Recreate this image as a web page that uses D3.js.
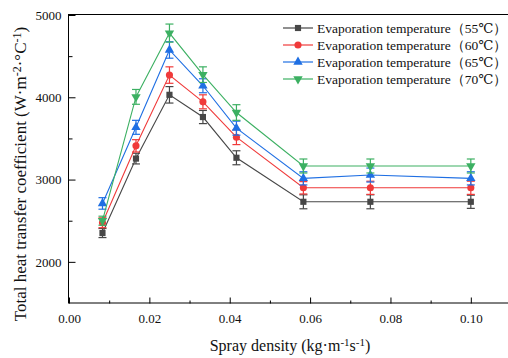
<!DOCTYPE html>
<html>
<head>
<meta charset="utf-8">
<script src="https://cdn.jsdelivr.net/npm/d3@7"></script>
<style>
  body { margin: 0; background: #fff; }
  svg { display: block; }
  svg text { font-family: "Liberation Serif", "Times New Roman", "DejaVu Serif", serif; fill: #111; }
</style>
</head>
<body>
<div id="chart"></div>
<script>
// spray density (kg·m-1s-1)
const density = [0.00833, 0.01667, 0.025, 0.03333, 0.04167, 0.05833, 0.075, 0.1];

const seriesNames = ['Evaporation temperature（55℃）', 'Evaporation temperature（60℃）',
                     'Evaporation temperature（65℃）', 'Evaporation temperature（70℃）'];
const t55 = [2350, 3255, 4030, 3760, 3265, 2730, 2730, 2730];
const t60 = [2475, 3410, 4270, 3945, 3515, 2900, 2900, 2900];
const t65 = [2710, 3635, 4575, 4140, 3625, 3015, 3055, 3015];
const t70 = [2500, 4005, 4780, 4275, 3815, 3165, 3165, 3165];
const err55 = [55, 65, 100, 80, 85, 85, 85, 80];
const err60 = [60, 75, 100, 85, 90, 75, 80, 80];
const err65 = [70, 85, 100, 85, 85, 80, 85, 80];
const err70 = [55, 90, 110, 95, 95, 85, 85, 85];

const xTicks = [0, 0.02, 0.04, 0.06, 0.08, 0.10];
const xMinor = [0.01, 0.03, 0.05, 0.07, 0.09];
const yTicks = [2000, 3000, 4000, 5000];
const yMinor = [2500, 3500, 4500];

const colors = ['#474747', '#f03a3a', '#1f6fe3', '#3cb062'];
const symbols = [d3.symbolSquare, d3.symbolCircle, d3.symbolTriangle, d3.symbolTriangle];

const W = 508, H = 358;
const svg = d3.select('#chart').append('svg').attr('width', W).attr('height', H);

const x = d3.scaleLinear().domain([0, 0.11]).range([69, 511]);
const y = d3.scaleLinear().domain([1500, 5000]).range([303, 15]);

// frame
svg.append('rect')
    .attr('x', 68.5).attr('y', 14.5)
    .attr('width', 511 - 68.5).attr('height', 303 - 14.5)
    .attr('fill', 'none').attr('stroke', '#000').attr('stroke-width', 1);

// axes
svg.append('g').attr('transform', 'translate(0,303.5)')
    .call(d3.axisBottom(x).tickValues(xTicks).tickSize(-6).tickPadding(10).tickFormat(d3.format('.2f')));
svg.append('g').attr('transform', 'translate(0,303.5)')
    .call(d3.axisBottom(x).tickValues(xMinor).tickSize(-3).tickFormat(''));
svg.append('g').attr('transform', 'translate(68.5,0)')
    .call(d3.axisLeft(y).tickValues(yTicks).tickSize(-7).tickPadding(7).tickFormat(d3.format('d')));
svg.append('g').attr('transform', 'translate(68.5,0)')
    .call(d3.axisLeft(y).tickValues(yMinor).tickSize(-4).tickFormat(''));
svg.selectAll('.domain').remove();
svg.selectAll('.tick line').attr('stroke', '#000');
svg.selectAll('.tick text').attr('fill', '#111').style('font-size', '13px');
svg.selectAll('g').attr('font-family', null).attr('font-size', null);

// axis titles
svg.append('text')
    .attr('x', 290).attr('y', 351)
    .attr('text-anchor', 'middle').style('font-size', '16px')
    .html('Spray density (kg·m<tspan dy="-5" font-size="11">-1</tspan><tspan dy="5">s</tspan><tspan dy="-5" font-size="11">-1</tspan><tspan dy="5">)</tspan>');
svg.append('text')
    .attr('transform', 'translate(26,174) rotate(-90)')
    .attr('text-anchor', 'middle').style('font-size', '17px')
    .html('Total heat transfer coefficient (W·m<tspan dy="-5" font-size="12">-2</tspan><tspan dy="5">·°C</tspan><tspan dy="-5" font-size="12">-1</tspan><tspan dy="5">)</tspan>');

// series
const series = [t55, t60, t65, t70].map((vals, i) => ({
    name: seriesNames[i],
    color: colors[i],
    symbol: symbols[i],
    flip: i === 3,
    pts: density.map((d, j) => ({ x: d, y: vals[j], e: [err55, err60, err65, err70][i][j] }))
}));

const line = d3.line().x(d => x(d.x)).y(d => y(d.y));

series.forEach(s => {
    const g = svg.append('g');
    g.append('path').datum(s.pts)
        .attr('d', line).attr('fill', 'none')
        .attr('stroke', s.color).attr('stroke-width', 1.1);
    // error bars
    const eb = g.selectAll('.eb').data(s.pts).enter().append('g');
    eb.append('line')
        .attr('x1', d => x(d.x)).attr('x2', d => x(d.x))
        .attr('y1', d => y(d.y - d.e)).attr('y2', d => y(d.y + d.e))
        .attr('stroke', s.color).attr('stroke-width', 1.2);
    [-1, 1].forEach(sg => {
        eb.append('line')
            .attr('x1', d => x(d.x) - 4).attr('x2', d => x(d.x) + 4)
            .attr('y1', d => y(d.y + sg * d.e)).attr('y2', d => y(d.y + sg * d.e))
            .attr('stroke', s.color).attr('stroke-width', 1.2);
    });
    g.selectAll('.mk').data(s.pts).enter().append('path')
        .attr('d', d3.symbol().type(s.symbol).size(s.symbol === d3.symbolCircle ? 40 : 38))
        .attr('transform', d => `translate(${x(d.x)},${y(d.y)})` + (s.flip ? ' rotate(180)' : ''))
        .attr('fill', s.color);
});

// legend
const legend = svg.append('g');
series.forEach((s, i) => {
    const ly = 28 + i * 17;
    legend.append('line')
        .attr('x1', 283).attr('x2', 313).attr('y1', ly).attr('y2', ly)
        .attr('stroke', s.color).attr('stroke-width', 1.2);
    legend.append('path')
        .attr('d', d3.symbol().type(s.symbol).size(s.symbol === d3.symbolCircle ? 40 : 38))
        .attr('transform', `translate(298,${ly})` + (s.flip ? ' rotate(180)' : ''))
        .attr('fill', s.color);
    legend.append('text')
        .attr('x', 317).attr('y', ly).attr('dy', '0.35em')
        .style('font-size', '13.5px')
        .text(s.name);
});
</script>
</body>
</html>
